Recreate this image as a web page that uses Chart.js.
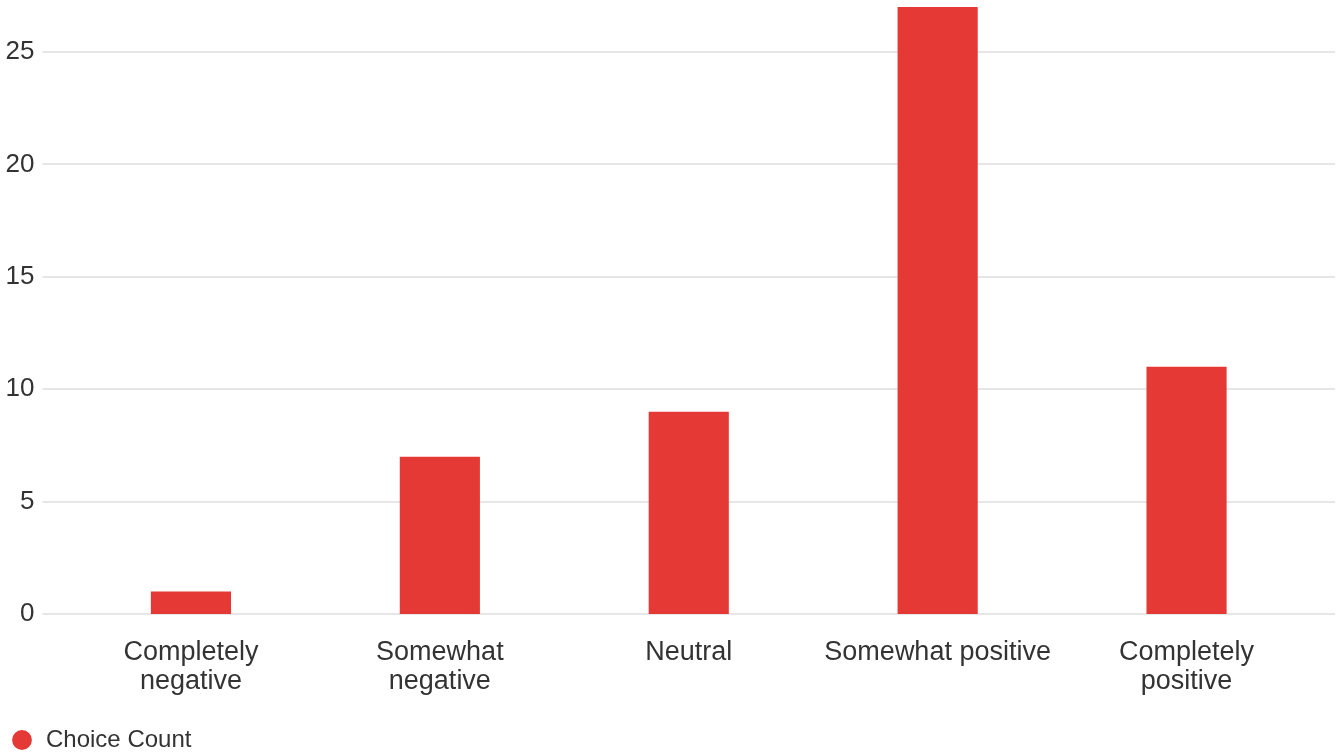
<!DOCTYPE html>
<html>
<head>
<meta charset="utf-8">
<script src="https://cdn.jsdelivr.net/npm/chart.js@4/dist/chart.umd.min.js"></script>
<style>
  html, body { margin: 0; padding: 0; background: #fff; }
  #wrap { width: 1340px; height: 756px; position: relative; }
</style>
</head>
<body>
<div id="wrap"><canvas id="chart"></canvas></div>
<script>
const categories = [
    ["Completely", "negative"],
    ["Somewhat", "negative"],
    "Neutral",
    "Somewhat positive",
    ["Completely", "positive"]
];
const choiceCounts = [1, 7, 9, 27, 11];
const yTicks = [0, 5, 10, 15, 20, 25];

const barColor = "#e53935";
const gridColor = "#e6e6e6";
const textColor = "#333333";

// grid lines run past the plot area on both sides, drawn behind the bars
const wideGrid = {
    id: "wideGrid",
    beforeDatasetsDraw(chart) {
        const { ctx, chartArea, scales } = chart;
        ctx.save();
        ctx.strokeStyle = gridColor;
        ctx.lineWidth = 2;
        yTicks.forEach(v => {
            const y = Math.round(scales.y.getPixelForValue(v));
            ctx.beginPath();
            ctx.moveTo(chartArea.left - 24, y);
            ctx.lineTo(chartArea.right + 24, y);
            ctx.stroke();
        });
        ctx.restore();
    }
};

new Chart(document.getElementById("chart"), {
    type: "bar",
    data: {
        labels: categories,
        datasets: [{
            label: "Choice Count",
            data: choiceCounts,
            backgroundColor: barColor,
            borderWidth: 0,
            categoryPercentage: 1,
            barPercentage: 0.322
        }]
    },
    options: {
        responsive: true,
        maintainAspectRatio: false,
        animation: false,
        layout: { padding: { top: 7, right: 29, left: 4, bottom: -6 } },
        plugins: {
            tooltip: { enabled: false },
            legend: {
                position: "bottom",
                align: "start",
                labels: {
                    usePointStyle: true,
                    pointStyle: "circle",
                    boxWidth: 24,
                    boxHeight: 14,
                    padding: 6,
                    color: textColor,
                    font: { family: "'Liberation Sans', Arial, sans-serif", size: 24 }
                }
            }
        },
        scales: {
            x: {
                grid: { display: false, drawTicks: false },
                border: { display: false },
                afterFit: scale => { scale.height = 108; },
                ticks: {
                    padding: 24,
                    maxRotation: 0,
                    autoSkip: false,
                    color: textColor,
                    font: { family: "'Liberation Sans', Arial, sans-serif", size: 27, lineHeight: 1.075 }
                }
            },
            y: {
                min: 0,
                max: 27,
                grid: { display: false, drawTicks: false },
                border: { display: false },
                afterBuildTicks: scale => {
                    scale.ticks = yTicks.map(v => ({ value: v }));
                },
                afterFit: scale => {
                    scale.width = 62.5;
                    scale.paddingTop = 0;
                    scale.paddingBottom = 0;
                },
                ticks: {
                    padding: 32,
                    color: textColor,
                    font: { family: "'Liberation Sans', Arial, sans-serif", size: 26 }
                }
            }
        }
    },
    plugins: [wideGrid]
});
</script>
</body>
</html>
